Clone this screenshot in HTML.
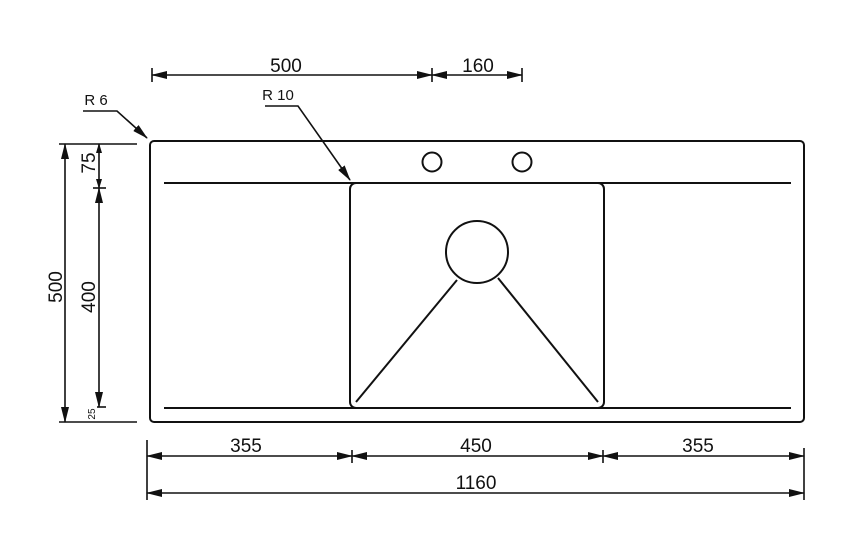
<!DOCTYPE html>
<html><head><style>
html,body{margin:0;padding:0;background:#fff;}
svg{display:block;}
text{font-family:"Liberation Sans",sans-serif;fill:#111;}
</style></head><body>
<svg width="860" height="542" viewBox="0 0 860 542" xmlns="http://www.w3.org/2000/svg">
<defs>
<marker id="a" markerWidth="16" markerHeight="8" refX="15" refY="4" orient="auto-start-reverse" markerUnits="userSpaceOnUse">
<path d="M0,0 L16,4 L0,8 Z" fill="#111"/></marker>
<marker id="s" markerWidth="10" markerHeight="6" refX="9" refY="3" orient="auto-start-reverse" markerUnits="userSpaceOnUse">
<path d="M0,0 L10,3 L0,6 Z" fill="#111"/></marker>
</defs>
<g stroke="#111" fill="none" stroke-width="2">
<!-- sink outline -->
<rect x="150" y="141" width="654" height="281" rx="4"/>
<line x1="164" y1="183" x2="791" y2="183"/>
<line x1="164" y1="408" x2="791" y2="408"/>
<rect x="350" y="183" width="254" height="225" rx="6"/>
<circle cx="477" cy="252" r="31"/>
<circle cx="432" cy="162" r="9.5"/>
<circle cx="522" cy="162" r="9.5"/>
<line x1="457" y1="280" x2="356" y2="402"/>
<line x1="498" y1="278" x2="598" y2="402"/>
</g>
<g stroke="#111" fill="none" stroke-width="1.6">
<!-- top dims -->
<line x1="152" y1="68" x2="152" y2="82"/>
<line x1="432" y1="68" x2="432" y2="82"/>
<line x1="522" y1="68" x2="522" y2="82"/>
<line x1="152" y1="75" x2="432" y2="75" marker-start="url(#a)" marker-end="url(#a)"/>
<line x1="432" y1="75" x2="522" y2="75" marker-start="url(#a)" marker-end="url(#a)"/>
<!-- leaders -->
<polyline points="83,111 117,111 147,138" marker-end="url(#a)"/>
<polyline points="265,106 298,106 350,180" marker-end="url(#a)"/>
<!-- left dims -->
<line x1="59" y1="144" x2="137" y2="144"/>
<line x1="59" y1="422" x2="137" y2="422"/>
<line x1="65" y1="144" x2="65" y2="422" marker-start="url(#a)" marker-end="url(#a)"/>
<line x1="99" y1="144" x2="99" y2="188" marker-start="url(#s)" marker-end="url(#s)"/>
<line x1="93" y1="188" x2="106" y2="188"/>
<line x1="99" y1="188" x2="99" y2="407" marker-start="url(#a)" marker-end="url(#a)"/>
<line x1="97" y1="407" x2="106" y2="407"/>
<!-- bottom dims -->
<line x1="147" y1="440" x2="147" y2="500"/>
<line x1="804" y1="448" x2="804" y2="500"/>
<line x1="352" y1="450" x2="352" y2="463"/>
<line x1="603" y1="450" x2="603" y2="463"/>
<line x1="147" y1="456" x2="352" y2="456" marker-start="url(#a)" marker-end="url(#a)"/>
<line x1="352" y1="456" x2="603" y2="456" marker-start="url(#a)" marker-end="url(#a)"/>
<line x1="603" y1="456" x2="804" y2="456" marker-start="url(#a)" marker-end="url(#a)"/>
<line x1="147" y1="493" x2="804" y2="493" marker-start="url(#a)" marker-end="url(#a)"/>
</g>
<g font-size="19" text-anchor="middle">
<text x="286" y="72">500</text>
<text x="478" y="72">160</text>
<text x="246" y="452">355</text>
<text x="476" y="452">450</text>
<text x="698" y="452">355</text>
<text x="476" y="489">1160</text>
<text transform="translate(62,287) rotate(-90)">500</text>
<text transform="translate(95,297) rotate(-90)">400</text>
<text transform="translate(95,163) rotate(-90)">75</text>
</g>
<text x="96" y="105" font-size="15" text-anchor="middle">R 6</text>
<text x="278" y="100" font-size="15" text-anchor="middle">R 10</text>
<text transform="translate(95,414) rotate(-90)" font-size="10" text-anchor="middle">25</text>
</svg>
</body></html>
